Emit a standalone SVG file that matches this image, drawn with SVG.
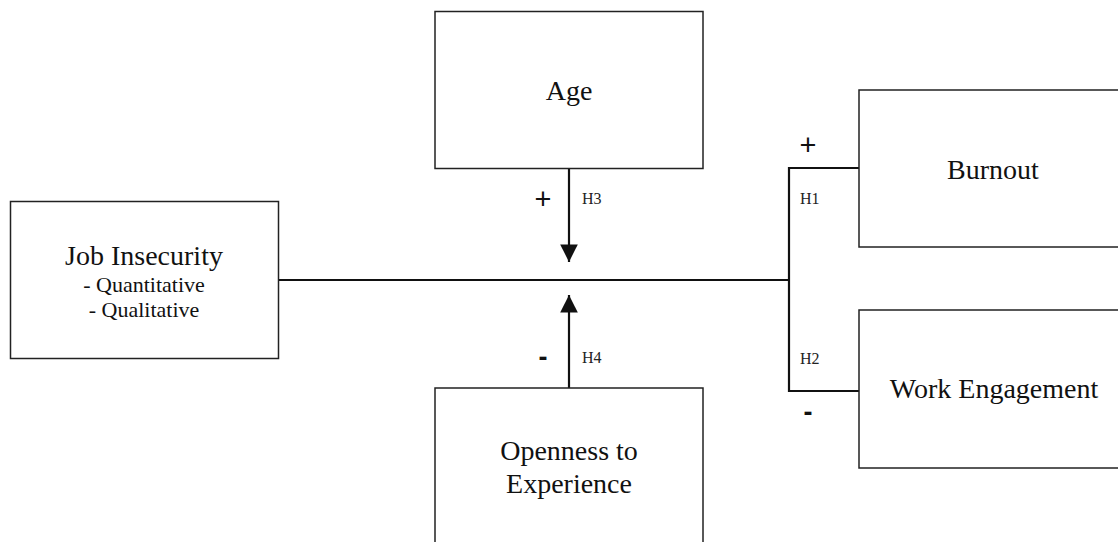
<svg xmlns="http://www.w3.org/2000/svg" width="1118" height="542" viewBox="0 0 1118 542">
<style>
.box{fill:#fff;stroke:#222;stroke-width:1.5}
.lbl{font-family:"Liberation Serif",serif;font-size:28px;fill:#111;text-anchor:middle}
.sub{font-family:"Liberation Serif",serif;font-size:22px;fill:#111;text-anchor:middle}
.h{font-family:"Liberation Serif",serif;font-size:16px;fill:#222}
.sign{font-family:"Liberation Sans",sans-serif;font-size:29px;fill:#111;text-anchor:middle}
.minus{font-family:"Liberation Sans",sans-serif;font-size:27px;font-weight:bold;fill:#111;text-anchor:middle}
.ln{fill:none;stroke:#111;stroke-width:2.2}
</style>
<defs>
<marker id="arr" viewBox="0 0 10 10" refX="10" refY="5" markerWidth="8" markerHeight="8" markerUnits="strokeWidth" orient="auto">
<path d="M0,0 L10,5 L0,10 Z" fill="#111"/>
</marker>
</defs>
<rect width="1118" height="542" fill="#fff"/>
<g id="connectors">
<line class="ln" x1="278.5" y1="280" x2="789" y2="280"/>
<polyline class="ln" points="859,168 789,168 789,391 859,391"/>
<line class="ln" x1="569" y1="168.5" x2="569" y2="262" marker-end="url(#arr)"/>
<line class="ln" x1="569" y1="388" x2="569" y2="295" marker-end="url(#arr)"/>
<text class="sign" x="543" y="209">+</text>
<text class="h" x="582" y="204">H3</text>
<text class="minus" x="543" y="366">-</text>
<text class="h" x="582" y="363">H4</text>
<text class="sign" x="808" y="155">+</text>
<text class="h" x="800" y="204">H1</text>
<text class="h" x="800" y="364">H2</text>
<text class="minus" x="808" y="421">-</text>
</g>
<g id="job-insecurity">
<rect class="box" x="10.5" y="201.5" width="268" height="157"/>
<text class="lbl" x="144" y="265">Job Insecurity</text>
<text class="sub" x="144" y="292">- Quantitative</text>
<text class="sub" x="144" y="317">- Qualitative</text>
</g>
<g id="age">
<rect class="box" x="435" y="11.5" width="268" height="157"/>
<text class="lbl" x="569" y="100">Age</text>
</g>
<g id="openness">
<rect class="box" x="435" y="388" width="268" height="170"/>
<text class="lbl" x="569" y="460">Openness to</text>
<text class="lbl" x="569" y="493">Experience</text>
</g>
<g id="burnout">
<rect class="box" x="859" y="90" width="268" height="157"/>
<text class="lbl" x="993" y="179">Burnout</text>
</g>
<g id="work-engagement">
<rect class="box" x="859" y="310" width="268" height="158"/>
<text class="lbl" x="994" y="398">Work Engagement</text>
</g>
</svg>
